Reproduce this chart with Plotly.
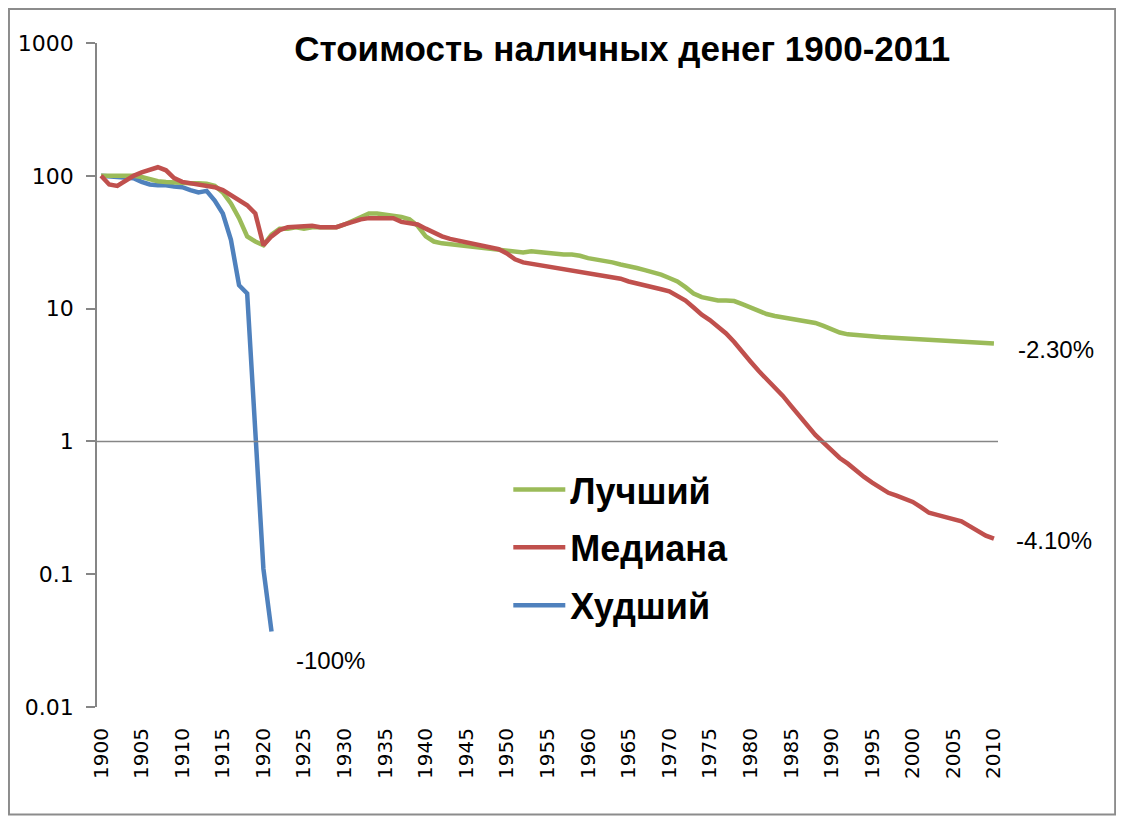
import math
import plotly.graph_objects as go

# годы 1900-2010
years = list(range(1900, 2011))

# лучший случай (зеленая)
best = [
    100, 100, 100, 100, 100, 98, 94, 91, 90, 89,
    89, 88, 88, 87, 84, 75, 62, 48, 35, 32,
    30, 36, 40, 40, 41, 40, 41, 41, 41, 41,
    43, 46, 49, 52, 52, 51, 50, 49, 47, 42,
    35, 32, 31, 30.5, 30, 29.5, 29, 28.5, 28, 27.5,
    27, 26.5, 26.5, 27, 26.5, 26, 25.8, 25.5, 25.5, 25,
    24, 23.5, 23, 22.3, 21.5, 21, 20.2, 19.5, 18.8, 18,
    17, 16, 14.5, 13, 12.2, 11.8, 11.5, 11.5, 11.4, 10.8,
    10.2, 9.6, 9.1, 8.8, 8.6, 8.4, 8.2, 8.1, 7.8, 7.4,
    7.0, 6.6, 6.4, 6.3, 6.2, 6.2, 6.1, 6.05, 6.0, 6.0,
    5.9, 5.9, 5.85, 5.8, 5.75, 5.7, 5.6, 5.55, 5.5, 5.5,
    5.45,
]

# медиана (красная)
median = [
    100, 86, 84, 92, 100, 106, 112, 116, 110, 96,
    90, 88, 87, 85, 82, 78, 72, 66, 60, 52,
    30, 35, 39, 41, 41.5, 42, 42, 41, 41, 41,
    43, 45, 47, 48, 48, 48.5, 48, 45, 44, 43,
    40, 37, 35, 33.5, 32.5, 32, 31, 30, 29, 28,
    26, 23.5, 22.3, 21.8, 21.2, 20.5, 20.2, 19.8, 19.3, 18.9,
    18.6, 18.2, 17.8, 17.3, 16.8, 16, 15.4, 15, 14.5, 14,
    13.5, 12.5, 11.5, 10.2, 9, 8.2, 7.3, 6.5, 5.6, 4.8,
    4.0, 3.4, 2.95, 2.6, 2.2, 1.85, 1.55, 1.3, 1.12, 0.98,
    0.85, 0.75, 0.68, 0.6, 0.54, 0.49, 0.45, 0.41, 0.39, 0.37,
    0.35, 0.32, 0.29, 0.28, 0.27, 0.26, 0.25, 0.23, 0.21, 0.195,
    0.185,
]

# худший случай (синяя) - до 1921
worst = [
    100, 99, 98, 97, 96, 90, 86, 85, 85, 83,
    82, 78, 75, 77, 65, 52, 33, 15, 13, 1.2,
    0.11, 0.037,
]

labels_end = ["-2.30%", "-4.10%", "-100%"]

y_ticks = [0.01, 0.1, 1, 10, 100, 1000]
y_tick_text = ["0.01", "0.1", "1", "10", "100", "1000"]

fig = go.Figure()

fig.add_trace(go.Scatter(x=years[:len(worst)], y=worst, name="Худший", mode="lines",
                         line=dict(color="#4F81BD", width=4.5), legendrank=3, legendgroup="w"))
fig.add_trace(go.Scatter(x=years, y=best, name="Лучший", mode="lines",
                         line=dict(color="#9BBB59", width=4.5), legendrank=1, legendgroup="b"))
fig.add_trace(go.Scatter(x=years, y=median, name="Медиана", mode="lines",
                         line=dict(color="#C0504D", width=4.5), legendrank=2, legendgroup="m"))

# подписи в конце линий (для лог-оси y задается в log10)
fig.add_annotation(x=years[-1], y=math.log10(best[-1]), text=labels_end[0], showarrow=False,
                   xanchor="left", yanchor="middle", xshift=22, yshift=-6)
fig.add_annotation(x=years[-1], y=math.log10(median[-1]), text=labels_end[1], showarrow=False,
                   xanchor="left", yanchor="middle", xshift=20, yshift=-2)
fig.add_annotation(x=years[len(worst) - 1], y=math.log10(worst[-1]), text=labels_end[2],
                   showarrow=False, xanchor="left", yanchor="middle", xshift=22, yshift=-29)
fig.update_annotations(font=dict(family="Liberation Sans", size=24, color="black"))

# горизонтальная ось на уровне 1
fig.add_shape(type="line", xref="paper", yref="y", x0=0, x1=1, y0=1, y1=1,
              line=dict(color="#868686", width=1.5))
# рамка вокруг диаграммы
fig.add_shape(type="rect", xref="paper", yref="paper", x0=-0.0977, x1=1.1300,
              y0=-0.1620, y1=1.0512, line=dict(color="#8C8C8C", width=2))

fig.update_layout(
    width=1108, height=808,
    margin=dict(l=89, r=118, t=35, b=109, autoexpand=False),
    paper_bgcolor="white", plot_bgcolor="white",
    font=dict(family="DejaVu Sans", size=20, color="black"),
    title=dict(text="<b>Стоимость наличных денег 1900-2011</b>",
               font=dict(family="Liberation Sans", size=35, color="black"),
               xref="paper", x=0.583, xanchor="center",
               yref="container", y=0.95, yanchor="middle"),
    legend=dict(x=0.4565, y=0.3725, xanchor="left", yanchor="top",
                font=dict(family="Liberation Sans", size=36, color="black", weight="bold"),
                bgcolor="rgba(0,0,0,0)", traceorder="grouped",
                tracegroupgap=8, itemwidth=52),
    showlegend=True,
)

fig.update_xaxes(range=[1899.5, 2010.5], tickmode="array", tickvals=years[::5],
                 tickangle=-90, showgrid=False, showline=False, zeroline=False,
                 ticks="", ticklabelstandoff=16, automargin=False)
fig.update_yaxes(type="log", range=[-2, 3], tickmode="array", tickvals=y_ticks,
                 ticktext=y_tick_text, showgrid=False, showline=True,
                 linecolor="#868686", linewidth=1.5, ticks="outside", ticklen=9,
                 tickcolor="#868686", tickwidth=1.5, ticklabelstandoff=8, zeroline=False,
                 tickfont=dict(size=22), automargin=False)

fig.write_html("out.html")
